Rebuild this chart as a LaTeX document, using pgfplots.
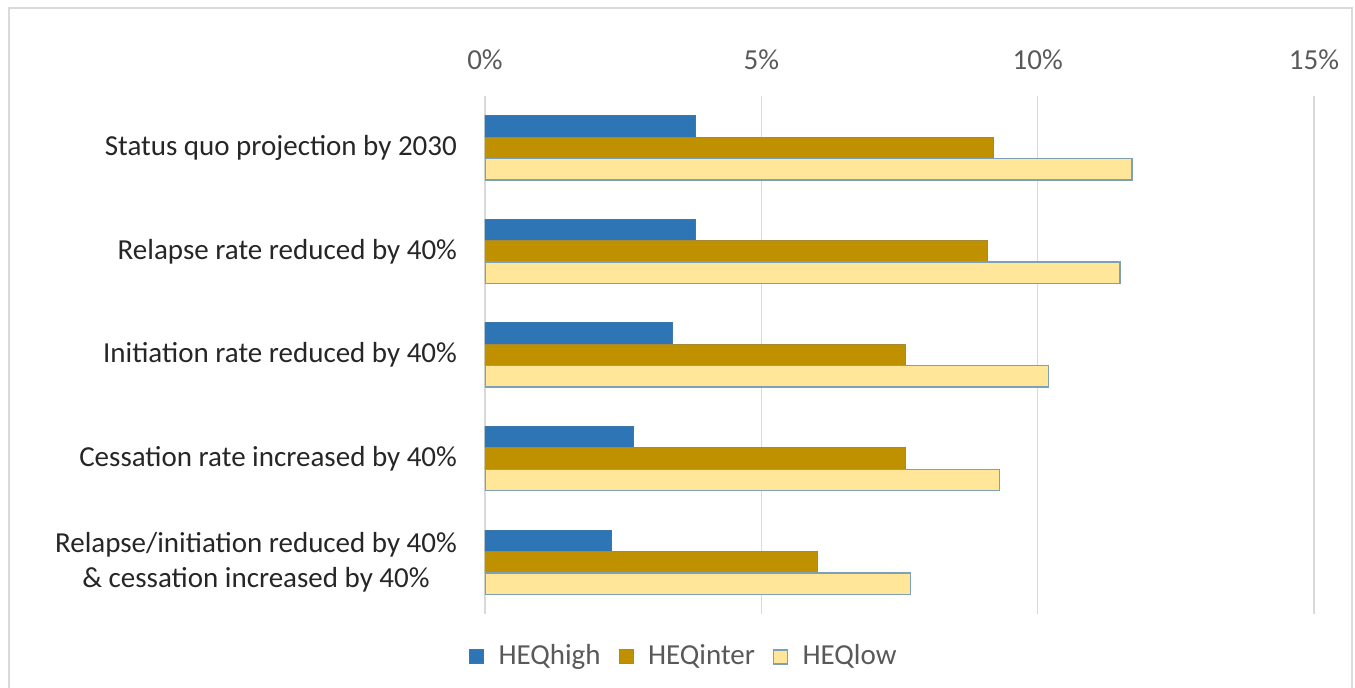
\documentclass[border=0pt]{standalone}
\usepackage{pgfplots}
\pgfplotsset{compat=1.18}
\usepackage{fontspec}
\setmainfont{Carlito}

\definecolor{cHigh}{HTML}{2E75B6}
\definecolor{cInter}{HTML}{BF9000}
\definecolor{cLow}{HTML}{FFE699}
\definecolor{gridc}{HTML}{D9D9D9}
\definecolor{txt}{HTML}{595959}

\begin{document}
\fontsize{14.5}{17.5}\selectfont
\begin{tikzpicture}
\begin{axis}[
  name=ax,
  scale only axis,
  width=414.5pt, height=259pt,
  xbar=0pt, bar width=10.7pt,
  xmin=0, xmax=15,
  ymin=-0.5, ymax=4.5, y dir=reverse,
  xtick={0,5,10,15},
  xticklabel={\pgfmathprintnumber{\tick}\%},
  xticklabel pos=upper,
  ytick={0,1,2,3,4},
  yticklabels={Status quo projection by 2030,
               Relapse rate reduced by 40\%,
               Initiation rate reduced by 40\%,
               Cessation rate increased by 40\%,
               {Relapse/initiation reduced by 40\%\\\& cessation increased by 40\%}},
  /pgf/number format/assume math mode=true,
  axis line style={draw=none},
  major tick length=0pt,
  xmajorgrids=true,
  grid style={gridc, line width=0.8pt},
  x tick label style={text=txt, yshift=8pt},
  y tick label style={align=center, text=black!85, xshift=-9pt},
  legend columns=3,
  legend style={draw=none, fill=none, at={(0.241,-0.083)}, anchor=center,
    text=txt, /tikz/every even column/.append style={column sep=7pt}},
  legend image code/.code={\path[draw=none, fill=none] (0pt,0pt) -- (12.5pt,0pt);
    \draw[#1] (0pt,-3.5pt) rectangle (7pt,3.5pt);},
]
\addplot[fill=cHigh, draw=cHigh!80!gray, line width=0.5pt, bar shift=10.7pt]
  coordinates {(3.80,0) (3.80,1) (3.39,2) (2.68,3) (2.29,4)};
\addplot[fill=cInter, draw=cInter!60!gray, line width=0.5pt, bar shift=0pt]
  coordinates {(9.20,0) (9.10,1) (7.61,2) (7.61,3) (6.01,4)};
\addplot[fill=cLow, draw={rgb,255:red,125;green,160;blue,180}, line width=0.7pt, bar shift=-10.7pt]
  coordinates {(11.71,0) (11.49,1) (10.20,2) (9.31,3) (7.70,4)};
\legend{HEQhigh, HEQinter, HEQlow}
\end{axis}
\path[use as bounding box] ([shift={(-242.5pt,-37pt)}]ax.south west) rectangle ++(677.5pt,344pt);
\draw[gridc, line width=1pt] ([shift={(-238pt,-45pt)}]ax.south west) rectangle ([shift={(433.5pt,303pt)}]ax.south west);
\end{tikzpicture}
\end{document}
